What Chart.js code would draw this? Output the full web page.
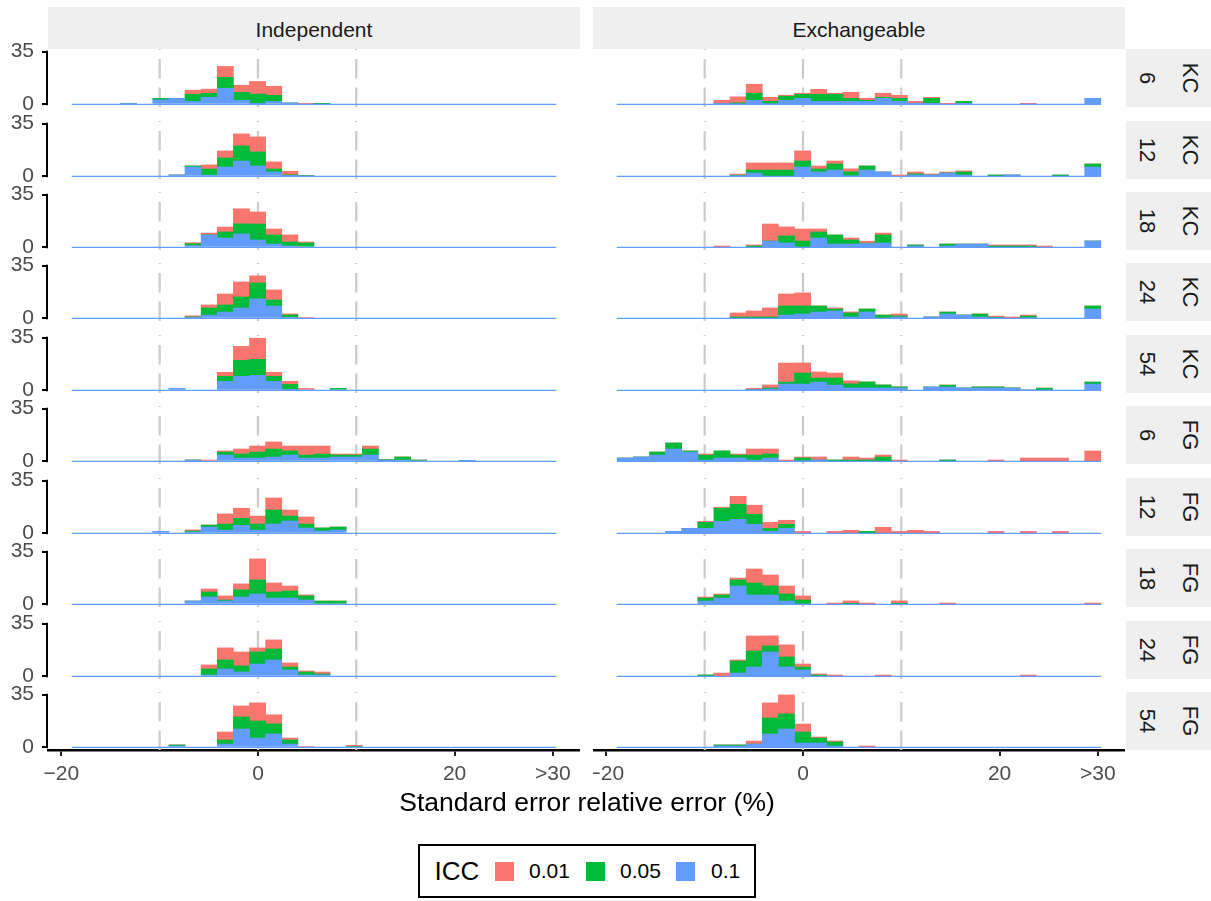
<!DOCTYPE html>
<html><head><meta charset="utf-8">
<script src="https://cdn.jsdelivr.net/npm/chart.js@4.4.1/dist/chart.umd.min.js"></script>
<style>
html,body{margin:0;padding:0;background:#fff;}
#root{position:relative;width:1211px;height:901px;overflow:hidden;background:#fff;font-family:'Liberation Sans',Arial,Helvetica,sans-serif;}
.box{position:absolute;}
.strip{position:absolute;background:#efefef;}
.txt{position:absolute;white-space:nowrap;transform:translate(-50%,-50%);line-height:1;}
.rtxt{position:absolute;white-space:nowrap;transform:translate(-50%,-50%) rotate(90deg);line-height:1;}
</style></head><body><div id="root"></div>
<script>
// ---- bins (histogram bin centres, units: %) ----
const BIN_CENTERS = [-18.08,-16.44,-14.80,-13.16,-11.52,-9.88,-8.24,-6.60,-4.96,-3.32,-1.68,-0.04,1.60,3.24,4.88,6.52,8.16,9.80,11.44,13.08,14.72,16.36,18.00,19.64,21.28,22.92,24.56,26.20,27.84,29.48];
const BIN_RANGE = [-18.90, 30.30];
const X_TICKS = [-20, 0, 20, 30];
const X_TICK_LABELS = ['\u221220', '0', '20', '>30'];
const Y_TICKS = [0, 35];
const REF_LINES = [-10, 0, 10];
const ICC_LEVELS = ['0.01', '0.05', '0.1'];
const COLUMNS = ['Independent', 'Exchangeable'];
const ROW_METHOD = ['KC','KC','KC','KC','KC','FG','FG','FG','FG','FG'];
const ROW_SIZE = ['6','12','18','24','54','6','12','18','24','54'];

// ---- Independent ----
const IND_KC6_ICC10 = [0,0,0,0.7,0,3,4,2,4.7,10.6, 2.7,0.4,2,0.9,0,0,0,0,0,0, 0,0,0,0,0,0,0,0,0,0];
const IND_KC6_ICC05 = [0,0,0,0,0,1,0,4.7,2.7,7.3, 5.3,6.4,4,0,0,0.5,0,0,0,0, 0,0,0,0,0,0,0,0,0,0];
const IND_KC6_ICC01 = [0,0,0,0,0,0,0,2.7,2.7,7.3, 4.7,8.4,6,0,0.5,0,0,0,0,0, 0,0,0,0,0,0,0,0,0,0];

const IND_KC12_ICC10 = [0,0,0,0,0,0,0.9,6.2,0.9,6.2, 10.2,6.9,2.9,0.5,0,0,0,0,0,0, 0,0,0,0,0,0,0,0,0,0];
const IND_KC12_ICC05 = [0,0,0,0,0,0,0,0.7,4,6, 10,9.3,2,0.5,0.7,0,0,0,0,0, 0,0,0,0,0,0,0,0,0,0];
const IND_KC12_ICC01 = [0,0,0,0,0,0,0,0,2.7,4.7, 8,10,4.7,2.4,0,0,0,0,0,0, 0,0,0,0,0,0,0,0,0,0];

const IND_KC18_ICC10 = [0,0,0,0,0,0,0,1.1,8.2,6.2, 8.9,4.9,2.2,0.9,0,0,0,0,0,0, 0,0,0,0,0,0,0,0,0,0];
const IND_KC18_ICC05 = [0,0,0,0,0,0,0,1.3,0,4, 6.7,10.6,6,2.7,2.9,0,0,0,0,0, 0,0,0,0,0,0,0,0,0,0];
const IND_KC18_ICC01 = [0,0,0,0,0,0,0,0.7,1.3,3.3, 10,8,4,4.7,0.7,0,0,0,0,0, 0,0,0,0,0,0,0,0,0,0];

const IND_KC24_ICC10 = [0,0,0,0,0,0,0,0.7,2.2,4.2, 6.9,12.9,8.2,0.7,0,0,0,0,0,0, 0,0,0,0,0,0,0,0,0,0];
const IND_KC24_ICC05 = [0,0,0,0,0,0,0,0.3,4.7,4.7, 7.3,10.6,4,1.6,0,0,0,0,0,0, 0,0,0,0,0,0,0,0,0,0];
const IND_KC24_ICC01 = [0,0,0,0,0,0,0,0.7,2,7.3, 10,4.7,6.7,0.7,0.7,0,0,0,0,0, 0,0,0,0,0,0,0,0,0,0];

const IND_KC54_ICC10 = [0,0,0,0,0,0,1.3,0,0,6, 9.3,10,6,0.7,0,0,0,0,0,0, 0,0,0,0,0,0,0,0,0,0];
const IND_KC54_ICC05 = [0,0,0,0,0,0,0,0,0,3.3, 10.6,10.6,3.3,3.3,0,0,1.3,0,0,0, 0,0,0,0,0,0,0,0,0,0];
const IND_KC54_ICC01 = [0,0,0,0,0,0,0,0,0,2.7, 9.3,14,2.7,2,1.3,0,0,0,0,0, 0,0,0,0,0,0,0,0,0,0];

const IND_FG6_ICC10 = [0,0,0,0,0,0,0,0.9,0,4.2, 2.2,2.2,2.9,4.2,2.2,2.2,2.9,2.9,4.2,0.4, 0.9,0,0,0,0.5,0,0,0,0,0];
const IND_FG6_ICC05 = [0,0,0,0,0,0,0,0,0,2, 2.7,4,5.3,2.7,2,2.7,1.3,1.3,4,0.7, 2,0.9,0,0,0,0,0,0,0,0];
const IND_FG6_ICC01 = [0,0,0,0,0,0,0,0,0.9,0.7, 3.3,4,4.7,3.3,6,5.3,0.7,0.7,2,0, 0,0,0,0,0,0,0,0,0,0];

const IND_FG12_ICC10 = [0,0,0,0,0,1.3,0,0.9,4.2,2.2, 5.3,2.2,6.2,8.2,3.5,1.6,2.2,0,0,0, 0,0,0,0,0,0,0,0,0,0];
const IND_FG12_ICC05 = [0,0,0,0,0,0,0,0.7,1.3,4, 4.7,4,9.3,3.3,2.7,2,2,0,0,0, 0,0,0,0,0,0,0,0,0,0];
const IND_FG12_ICC01 = [0,0,0,0,0,0,0,0.7,0,6.7, 6.7,5.3,8,4,4.7,0,0,0,0,0, 0,0,0,0,0,0,0,0,0,0];

const IND_FG18_ICC10 = [0,0,0,0,0,0,0,2.2,4.9,2.2, 4.9,6.9,4.2,4.2,2.9,0,0,0,0,0, 0,0,0,0,0,0,0,0,0,0];
const IND_FG18_ICC05 = [0,0,0,0,0,0,0,0,3.3,0.7, 4.7,9.3,4,4.7,2.7,2.2,2.2,0,0,0, 0,0,0,0,0,0,0,0,0,0];
const IND_FG18_ICC01 = [0,0,0,0,0,0,0,0,2,2.7, 4,14,6,3.3,0.7,0,0,0,0,0, 0,0,0,0,0,0,0,0,0,0];

const IND_FG24_ICC10 = [0,0,0,0,0,0,0,0,0.9,4.9, 2.9,8.2,10.9,4.2,0.9,0.9,0,0,0,0, 0,0,0,0,0,0,0,0,0,0];
const IND_FG24_ICC05 = [0,0,0,0,0,0,0,0,4,6, 4,8,7.3,2,2,0.7,0,0,0,0, 0,0,0,0,0,0,0,0,0,0];
const IND_FG24_ICC01 = [0,0,0,0,0,0,0,0,2.7,8, 9.3,2.7,6,2.7,0.7,1.3,0,0,0,0, 0,0,0,0,0,0,0,0,0,0];

const IND_FG54_ICC10 = [0,0,0,0,0,0,0.9,0,0,2.2, 12.2,6.2,8.9,2.2,0,0,0,0,0,0, 0,0,0,0,0,0,0,0,0,0];
const IND_FG54_ICC05 = [0,0,0,0,0,0,0.7,0,0,2.7, 8,11.3,6.7,2.7,0,0,0,0.7,0,0, 0,0,0,0,0,0,0,0,0,0];
const IND_FG54_ICC01 = [0,0,0,0,0,0,0,0,0,5.3, 7.3,12,6,1.3,0.7,0,0,0.7,0,0, 0,0,0,0,0,0,0,0,0,0];

// ---- Exchangeable ----
const EXC_KC6_ICC10 = [0,0,0,0,0,0,0.5,0.3,2.7,0.4, 2.7,4,2,2,2,2,4,2,0.7,0.7, 0,0.7,0,0,0,0,0,0,0,4];
const EXC_KC6_ICC05 = [0,0,0,0,0,0,0,0.7,4.7,1.6, 2.7,2.7,4.7,4.7,2,0.7,0.7,2,0,3.3, 0,1.3,0,0,0,0,0,0,0,0];
const EXC_KC6_ICC01 = [0,0,0,0,0,0,2.2,4,6,2.7, 0.7,0.7,3.3,0.7,4,1.3,2.7,2,1.3,0.7, 0.7,0,0,0,0,0.7,0,0,0,0];

const EXC_KC12_ICC10 = [0,0,0,0,0,0,0,0.4,2.2,0, 0,6.2,2.9,4.2,0.3,4.2,2.9,0,0.9,0.9, 2.2,0.9,0,0,0.9,0,0,0,0,6.2];
const EXC_KC12_ICC05 = [0,0,0,0,0,0,0,0.4,2,4.2, 4.2,4,2,4,2.7,2.7,0,0,0.7,0, 0,2,0,0.9,0,0,0,0.9,0,2];
const EXC_KC12_ICC01 = [0,0,0,0,0,0,0,0.7,4.7,4.7, 4.7,6.7,2,2,2,0,0,0.9,1.3,0.7, 0.7,0.7,0,0,0,0,0,0,0,0];

const EXC_KC18_ICC10 = [0,0,0,0,0,0,0,0,0,4.2, 2.9,0.2,6.2,2.2,2.2,2.5,2.9,0,0.9,0, 0.9,2.2,2.2,0,0,0,0,0,0,4.2];
const EXC_KC18_ICC05 = [0,0,0,0,0,0,0,0,0.9,0, 4.7,4,4,6,2.7,0.3,5.3,0,0.7,0, 1.3,0,0,0.9,0.9,0.9,0,0,0,0];
const EXC_KC18_ICC01 = [0,0,0,0,0,0,0.9,0,0.7,11.3, 6,8,2,0,1.3,1.3,1.3,0,0,0, 0,0,0,0.7,0.7,0.7,0.9,0,0,0];

const EXC_KC24_ICC10 = [0,0,0,0,0,0,0,0,0,0, 2.2,2.9,4.2,4.9,0.9,4.2,0.2,0.9,0,0.9, 2.9,2.2,0.9,0.4,0,0.4,0,0,0,6.2];
const EXC_KC24_ICC05 = [0,0,0,0,0,0,0,0.9,0.9,0.9, 6,5.3,4,1.3,2.7,2,2,0.7,0,0, 1.3,0,2,0.4,0,1.1,0,0,0,2];
const EXC_KC24_ICC01 = [0,0,0,0,0,0,0,2.7,4,6, 8,8.7,0,0.7,0.7,0,0,1.3,0,0, 0,0,0,0.7,0.9,0.7,0,0,0,0];

const EXC_KC54_ICC10 = [0,0,0,0,0,0,0,0,0.5,0.9, 4.2,4.2,5.5,3.5,1.6,1.6,1.6,1.6,0,2.2, 2.2,1.6,1.6,1.6,1.6,0.2,0.2,0,0,4.2];
const EXC_KC54_ICC05 = [0,0,0,0,0,0,0,0,0,0.7, 1.3,7.3,2.7,4.7,2.7,4,2,0.7,0,0, 1.3,0,0.7,0.7,0,0,1.3,0,0,1.3];
const EXC_KC54_ICC01 = [0,0,0,0,0,0,0,0,0.9,2, 12.6,6.7,4,3.3,2,0,0,0,0,0, 0,0,0,0,0,0,0,0,0,0];

const EXC_FG6_ICC10 = [2.2,2.9,4.2,8.2,6.2,0.9,2.2,2.2,0.9,2.2, 0,0.4,0.9,0,0,0,0,0,0,0, 0,0,0,0,0,0,0,0,0,0];
const EXC_FG6_ICC05 = [0,0,2,4,0.7,3.3,4.7,2,3.3,2.7, 0,1.8,0,0.9,0.9,0.9,2.9,0,0,0, 0.9,0,0,0,0,0,0,0,0,0];
const EXC_FG6_ICC01 = [0,0,0,0,0,0.7,0,0.7,4,3.3, 0.9,0.7,2,0,2,1.3,1.3,0.9,0,0, 0,0,0,0.9,0,2.2,2.2,2.2,0,6.9];

const EXC_FG12_ICC10 = [0,0,0,1.3,3.3,3.3,8,9.3,6,1.3, 3.3,0,0,0,0,0,0,0,0,0, 0,0,0,0,0,0,0,0,0,0];
const EXC_FG12_ICC05 = [0,0,0,0,0,4,8.7,10,6.7,2, 2.7,0,0,0,0,1.3,0,0,0,0, 0,0,0,0,0,0,0,0,0,0];
const EXC_FG12_ICC01 = [0,0,0,0,0,0.7,0.7,5.3,6,4, 2.7,1.3,0,1.3,2,0,4,1.3,2,1.3, 0,0,0,1.3,0,1.3,0,1.3,0,0];

const EXC_FG18_ICC10 = [0,0,0,0,0,2.2,4.2,12.2,6.2,6.2, 2.2,0.2,0,0,0,0,0,0,0,0, 0,0,0,0,0,0,0,0,0,0];
const EXC_FG18_ICC05 = [0,0,0,0,0,2,2,4,8,6, 4.7,2.7,0,0,0.7,0,0,0.7,0,0, 0,0,0,0,0,0,0,0,0,0];
const EXC_FG18_ICC01 = [0,0,0,0,0,0.7,0.7,1.3,9.3,7.3, 5.3,2.7,0,0.9,1.6,0.9,0,1.6,0,0, 0.9,0,0,0,0,0,0,0,0,0.9];

const EXC_FG24_ICC10 = [0,0,0,0,0,0,0,2.2,6.2,16.2, 6.2,4.2,0,0,0,0,0,0,0,0, 0,0,0,0,0,0,0,0,0,0];
const EXC_FG24_ICC05 = [0,0,0,0,0,0.9,0,8,10.6,4, 6.7,2,0.9,0,0,0,0,0,0,0, 0,0,0,0,0,0,0,0,0,0];
const EXC_FG24_ICC01 = [0,0,0,0,0,0,2.2,0.7,10,6.7, 8,2,0.7,0.9,0,0,0.9,0,0,0, 0,0,0,0,0,0.9,0,0,0,0];

const EXC_FG54_ICC10 = [0,0,0,0,0,0,0.9,0.9,2.2,8.9, 12.2,2.9,2.9,0.9,0,0,0,0,0,0, 0,0,0,0,0,0,0,0,0,0];
const EXC_FG54_ICC05 = [0,0,0,0,0,0,0.7,0.7,0,10.6, 10,7.3,3.3,2.7,0,0,0,0,0,0, 0,0,0,0,0,0,0,0,0,0];
const EXC_FG54_ICC01 = [0,0,0,0,0,0,0,0,2,10, 12.6,5.3,0.7,0.7,0,0.9,0,0,0,0, 0,0,0,0,0,0,0,0,0,0];

// panel table: [row][column] -> [ICC 0.01, ICC 0.05, ICC 0.1]
const PANELS = [
  [[IND_KC6_ICC01, IND_KC6_ICC05, IND_KC6_ICC10], [EXC_KC6_ICC01, EXC_KC6_ICC05, EXC_KC6_ICC10]],
  [[IND_KC12_ICC01, IND_KC12_ICC05, IND_KC12_ICC10], [EXC_KC12_ICC01, EXC_KC12_ICC05, EXC_KC12_ICC10]],
  [[IND_KC18_ICC01, IND_KC18_ICC05, IND_KC18_ICC10], [EXC_KC18_ICC01, EXC_KC18_ICC05, EXC_KC18_ICC10]],
  [[IND_KC24_ICC01, IND_KC24_ICC05, IND_KC24_ICC10], [EXC_KC24_ICC01, EXC_KC24_ICC05, EXC_KC24_ICC10]],
  [[IND_KC54_ICC01, IND_KC54_ICC05, IND_KC54_ICC10], [EXC_KC54_ICC01, EXC_KC54_ICC05, EXC_KC54_ICC10]],
  [[IND_FG6_ICC01, IND_FG6_ICC05, IND_FG6_ICC10], [EXC_FG6_ICC01, EXC_FG6_ICC05, EXC_FG6_ICC10]],
  [[IND_FG12_ICC01, IND_FG12_ICC05, IND_FG12_ICC10], [EXC_FG12_ICC01, EXC_FG12_ICC05, EXC_FG12_ICC10]],
  [[IND_FG18_ICC01, IND_FG18_ICC05, IND_FG18_ICC10], [EXC_FG18_ICC01, EXC_FG18_ICC05, EXC_FG18_ICC10]],
  [[IND_FG24_ICC01, IND_FG24_ICC05, IND_FG24_ICC10], [EXC_FG24_ICC01, EXC_FG24_ICC05, EXC_FG24_ICC10]],
  [[IND_FG54_ICC01, IND_FG54_ICC05, IND_FG54_ICC10], [EXC_FG54_ICC01, EXC_FG54_ICC05, EXC_FG54_ICC10]]
];

// ---- styling / layout ----
const COLORS = ['#F8766D', '#00BA38', '#619CFF'];
const FONT = "'Liberation Sans', Arial, Helvetica, sans-serif";
const X_MIN = -21.36, X_MAX = 32.76, Y_MIN = -1.75, Y_MAX = 36.75;
const COL_LEFT = [48, 593], PANEL_W = 532, PANEL_H = 58, ROW_TOP0 = 49.07, ROW_STEP = 71.44;
const YAXIS_W = 48, PAD = 14, XAXIS_H = 50;

Chart.defaults.font.family = FONT;
const root = document.getElementById('root');

function el(cls, css, text) {
  const d = document.createElement('div');
  d.className = cls; d.style.cssText = css;
  if (text !== undefined) d.textContent = text;
  root.appendChild(d); return d;
}

const capAxis = {
  id: 'capAxis',
  afterDraw(chart, args, opts) {
    if (!opts || !opts.on) return;
    const y = chart.scales.y, ctx = chart.ctx;
    const x = chart.chartArea.left - 1;
    ctx.save();
    ctx.strokeStyle = '#000'; ctx.lineWidth = 2;
    ctx.beginPath();
    ctx.moveTo(x, y.getPixelForValue(Y_TICKS[0]) + 1);
    ctx.lineTo(x, y.getPixelForValue(Y_TICKS[1]) - 1);
    ctx.stroke();
    ctx.restore();
  }
};

function makePanel(r, c) {
  const series = PANELS[r][c];
  const pTop = Math.round(ROW_TOP0 + ROW_STEP * r);
  const isBottom = r === PANELS.length - 1;
  const showY = c === 0;
  const left = showY ? COL_LEFT[0] - YAXIS_W : COL_LEFT[c];
  const width = PANEL_W + (showY ? YAXIS_W : 0);
  const top = pTop - PAD;
  const height = PAD + PANEL_H + (isBottom ? XAXIS_H : PAD);
  const box = el('box', `left:${left}px;top:${top}px;width:${width}px;height:${height}px;`);
  const cv = document.createElement('canvas');
  cv.width = width; cv.height = height;
  cv.style.width = width + 'px'; cv.style.height = height + 'px';
  box.appendChild(cv);

  const datasets = [];
  REF_LINES.forEach((v, i) => datasets.push({
    type: 'line', data: [{x: v, y: Y_MIN}, {x: v, y: Y_MAX}],
    borderColor: '#cbcbcb', borderWidth: 2.2, borderDash: [19.5, 9], pointRadius: 0,
    stack: 'ref' + i, order: 5
  }));
  // stacked bottom -> top : 0.1 (blue), 0.05 (green), 0.01 (red)
  [2, 1, 0].forEach(j => datasets.push({
    type: 'bar', label: ICC_LEVELS[j],
    data: BIN_CENTERS.map((x, i) => ({x: x, y: series[j][i]})),
    backgroundColor: COLORS[j], borderWidth: 0,
    barPercentage: 1, categoryPercentage: 1, stack: 'icc', order: 2
  }));
  datasets.push({
    type: 'line', data: [{x: BIN_RANGE[0], y: 0}, {x: BIN_RANGE[1], y: 0}],
    borderColor: COLORS[2], borderWidth: 1.2, pointRadius: 0, stack: 'base', order: 1
  });

  new Chart(cv, {
    type: 'bar',
    data: {datasets},
    plugins: [capAxis],
    options: {
      responsive: false, animation: false, devicePixelRatio: 1, events: [],
      layout: {padding: {top: PAD, bottom: isBottom ? 0 : PAD, left: 0, right: 0}},
      plugins: {legend: {display: false}, tooltip: {enabled: false}, capAxis: {on: showY}},
      scales: {
        x: {
          type: 'linear', min: X_MIN, max: X_MAX, stacked: true, offset: false,
          display: isBottom,
          afterBuildTicks: s => { s.ticks = X_TICKS.map(v => ({value: v})); },
          afterFit: s => { s.height = isBottom ? XAXIS_H : 0; s.paddingLeft = 0; s.paddingRight = 0; },
          ticks: {autoSkip: false, maxRotation: 0, minRotation: 0, padding: 6, color: '#4d4d4d',
                  font: {size: 21, family: FONT},
                  callback: v => X_TICK_LABELS[X_TICKS.indexOf(v)]},
          grid: {offset: false, drawOnChartArea: false, drawTicks: true, tickLength: 6, color: '#222', lineWidth: 2},
          border: {display: true, color: '#000', width: 2.5}
        },
        y: {
          type: 'linear', min: Y_MIN, max: Y_MAX, stacked: true,
          display: showY,
          afterBuildTicks: s => { s.ticks = Y_TICKS.map(v => ({value: v})); },
          afterFit: s => { s.width = showY ? YAXIS_W : 0; s.paddingTop = 0; s.paddingBottom = 0; },
          ticks: {autoSkip: false, padding: 8, color: '#4d4d4d', font: {size: 21, family: FONT},
                  callback: v => String(v)},
          grid: {drawOnChartArea: false, drawTicks: true, tickLength: 6, color: '#000', lineWidth: 2},
          border: {display: false}
        }
      }
    }
  });

  // row strip on the right
  if (c === 1) {
    el('strip', `left:1126px;top:${pTop}px;width:85px;height:${PANEL_H}px;`);
    el('rtxt', `left:1190px;top:${pTop + PANEL_H / 2}px;font-size:22px;color:#1a1a1a;`, ROW_METHOD[r]);
    el('rtxt', `left:1147px;top:${pTop + PANEL_H / 2}px;font-size:22px;color:#1a1a1a;`, ROW_SIZE[r]);
  }
}

// column strips
COLUMNS.forEach((name, c) => {
  el('strip', `left:${COL_LEFT[c]}px;top:7px;width:${PANEL_W}px;height:42px;`);
  el('txt', `left:${COL_LEFT[c] + PANEL_W / 2}px;top:29px;font-size:21px;color:#1a1a1a;`, name);
});

for (let r = 0; r < PANELS.length; r++) for (let c = 0; c < 2; c++) makePanel(r, c);

// axis title
el('txt', 'left:587px;top:802px;font-size:26.5px;color:#000;', 'Standard error relative error (%)');

// legend
el('box', 'left:418px;top:844px;width:334px;height:50px;border:2px solid #000;background:#fff;');
el('txt', 'left:457px;top:871px;font-size:26px;color:#000;', 'ICC');
const KEY_X = [495, 586, 676], LAB_X = [529, 620, 711];
ICC_LEVELS.forEach((lab, j) => {
  el('box', `left:${KEY_X[j]}px;top:862px;width:19px;height:19px;background:${COLORS[j]};`);
  el('box', `left:${LAB_X[j]}px;top:860px;font-size:21px;line-height:22px;color:#000;white-space:nowrap;`, lab);
});
</script></body></html>
